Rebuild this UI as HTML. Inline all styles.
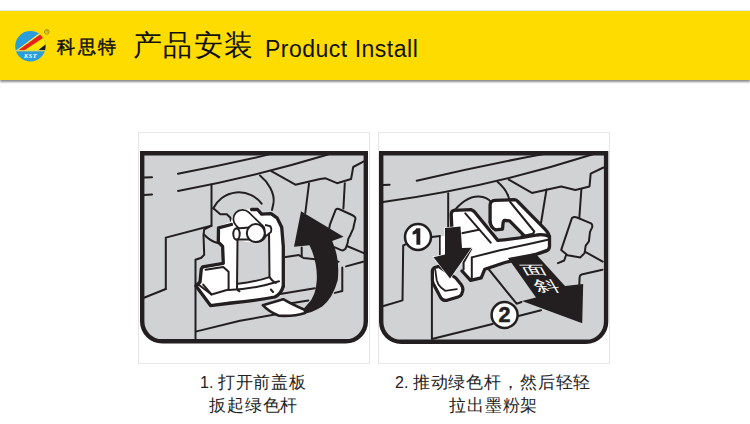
<!DOCTYPE html>
<html><head><meta charset="utf-8">
<style>
html,body{margin:0;padding:0;background:#fff;}
body{width:750px;height:424px;position:relative;overflow:hidden;font-family:"Liberation Sans",sans-serif;}
#bar{position:absolute;left:0;top:11px;width:750px;height:69px;background:#ffdc00;box-shadow:0 2px 2px rgba(0,0,0,0.45),0 -1px 0 #e4e7ee;}
.t{position:absolute;white-space:nowrap;color:#111;line-height:1;}
#kst{left:57px;top:38px;font-size:18px;letter-spacing:2.6px;-webkit-text-stroke:0.5px #111;}
#cn{left:133px;top:31px;font-size:29px;letter-spacing:1.3px;}
#en{left:265px;top:38px;font-size:23px;letter-spacing:0.5px;}
.cap{position:absolute;color:#222;font-size:17px;letter-spacing:0.85px;line-height:24px;white-space:nowrap;}
.d{font-size:16px;letter-spacing:0;}
.box{position:absolute;top:132px;width:230px;height:230px;border:1px solid #e6e6e6;}
#b1{left:138px;}
#b2{left:378px;}
svg{position:absolute;left:0;top:0;}
</style></head><body>
<div id="bar"></div>
<div class="t" id="kst">科思特</div>
<div class="t" id="cn">产品安装</div>
<div class="t" id="en">Product Install</div>
<div class="box" id="b1"></div>
<div class="box" id="b2"></div>
<svg width="750" height="424" viewBox="0 0 750 424"><g id="ill1">
<path d="M142.2,153.2 H365.8 V321.3 A20,20 0 0 1 345.8,341.3 H162.2 A20,20 0 0 1 142.2,321.3 Z" fill="#d1d2d4"/>
<g fill="none" stroke="#231f20" stroke-width="2" stroke-linejoin="round" stroke-linecap="round">
<path d="M144,177.6 L152,177.2 M144,195 L152,194.6"/>
<path d="M178,173.7 Q227,164.3 276,152.9"/>
<path d="M178,190.9 Q253,177.2 328,154.5"/>
<path d="M211.5,184.5 V225.8"/>
<path d="M165.8,289 V237.6 L211.2,225.8"/>
<path d="M165.8,289 L144,297.8"/>
<path d="M211.2,225.8 L204.2,229.3 L203.5,235 L204.2,254.8 L201.3,257.7 L195.5,259.8 V340"/>
<path d="M204,234.5 Q210,241 217.6,243"/>
<path d="M271.3,171.2 L295.4,184.7 L320,179 L325.7,178.3 L337,183.2 L351.1,179 L353.2,167 L363.8,161.3"/>
<path d="M309,183.5 L305.3,213"/>
<path d="M344.8,183.2 L343.4,208.5"/>
<path d="M213.3,208.3 A28.5,28.5 0 0 1 261.6,203.6"/>
<path d="M260,175.5 C268,182 275,193 273.5,203 L272,210"/>
<path d="M196.6,331.4 L240,320.8 L300,310.1"/>
<path d="M285.7,257 L298.9,255.1 L303.6,258 L338.5,261.7 M301.7,247.6 V257"/>
<path d="M346.1,266.4 L363.1,261.7 M342.3,267.4 V291 L334.8,292.9"/>
<path d="M346.9,246 L363.9,253.1"/>
<path d="M275.5,294.8 L314.9,288.2"/>
<path d="M291.3,303.3 L308.3,300.4"/>
<path d="M213.3,208.3 L220.3,214.2 L226.8,214.2 L230.4,217.8 L231,221.5"/>
</g>
<!-- white block upper right -->
<path d="M335.6,209.9 Q337,208 340,209.5 L352,215 Q356,217 355.4,219.1 L354,224.7 L353.3,228.3 L350.5,234.7 L348.3,238.9 L347.6,243.2 L345.5,248.8 Q343,251 341.2,250.2 L334.9,247.4 L326,245 L329.9,224.7 Z" fill="#d1d2d4" stroke="#231f20" stroke-width="2" stroke-linejoin="round"/>
<!-- holder front face white -->
<path d="M230.4,221.9 L233.3,215.4 L240.4,208.9 L251.6,209.5 L257.5,209.5 L261.6,214.2 L271,213.6 L277,217.8 L281.7,227.2 L283.3,246.6 L283.3,286.2 Q281,293 274.8,296 Q256,300 231.3,301 L210.5,305.6 L196,286 L200,282 L201.3,269 L202.7,266.9 L223.3,263.3 L222.6,246.3 L218.3,242 L217.6,226.5 Z" fill="#fff"/>
<path d="M237.5,240 L247,242 L256,242.5 L264,238 L269,230 L269.5,277 Q256,281.5 238,284 Z" fill="#d1d2d4"/>
<g fill="none" stroke="#231f20" stroke-linejoin="round" stroke-linecap="round">
<path stroke-width="3.3" d="M231.4,224.5 L218.5,227.8 L218.3,242 L222.6,246.3 L223.3,263.3 L202.7,266.9 L201.3,269 L200,282 L196,286 L210.5,305.6 L231.3,303 Q256,300.5 274.8,297 Q281,294 283.3,286.2"/>
<path stroke-width="3.3" d="M251.6,209.5 L257.5,209.5 L261.6,214.2 L271,213.6 L277,217.8 L281.7,227.2 L283.3,246.6 L283.3,286.2"/>
<path stroke-width="2" d="M205.6,269.7 L223.3,266.9 L228.6,271.8 L228.6,289.5 L211.5,294.5 L203.2,284.6"/>
<path stroke-width="2" d="M197.4,283.7 L211.5,294.5 M228.6,290 Q255,289 279,281.3"/>
<path stroke-width="2" d="M237.5,240 L237,287.9 Q237.5,291 239.5,291.2"/>
<path stroke-width="2" d="M269,229 L269.5,277.1 Q272,281 275.8,282.9 M270.9,289.5 L273,292"/>
<path stroke-width="2" d="M238,283.7 Q255,282 269.5,277.1"/>
</g>
<!-- roller -->
<path d="M242.5,219 L257,233" stroke="#231f20" stroke-width="20" stroke-linecap="round"/>
<path d="M242.5,219 L257,233" stroke="#fff" stroke-width="16.5" stroke-linecap="round"/>
<path d="M265,225 L270,226 Q272,228 271,232 L266,236" fill="#fff" stroke="#231f20" stroke-width="1.8"/>
<!-- pin -->
<path d="M236.5,228.5 L249,227.5 L249,239.5 L236.5,239.5 Z" fill="#fff" stroke="#231f20" stroke-width="2"/>
<ellipse cx="236.5" cy="234" rx="3.2" ry="5.5" fill="#fff" stroke="#231f20" stroke-width="2"/>
<circle cx="255.8" cy="233.1" r="9" fill="#fff" stroke="#231f20" stroke-width="2"/>
<!-- arrow -->
<path d="M301,211.3 L294,246.7 L309.5,245.3 Q317.5,262 316.8,280 Q316,296 307.8,304 L303,309.4 L301.8,314.2 Q312,313 322.2,306.4 Q333,298 337.8,280 Q340,258 332.2,241 L343.5,236.8 Z" fill="#231f20"/>
<path d="M262.8,305.2 L283.2,299.2 Q291,304 305,310 L305,313 Q295,316.5 279,315.8 Q269,312 262.8,305.2 Z" fill="#fff" stroke="#231f20" stroke-width="2.6" stroke-linejoin="round"/>
<path d="M142.2,153.2 H365.8 V321.3 A20,20 0 0 1 345.8,341.3 H162.2 A20,20 0 0 1 142.2,321.3 Z" fill="none" stroke="#231f20" stroke-width="4.4"/>
</g>
<g id="ill2">
<path d="M381.2,153.2 H606.1 V321.8 A20,20 0 0 1 586.1,341.8 H401.2 A20,20 0 0 1 381.2,321.8 Z" fill="#d1d2d4"/>
<g fill="none" stroke="#231f20" stroke-width="2" stroke-linejoin="round" stroke-linecap="round">
<path d="M383,185 L389.6,184.7"/>
<path d="M416.7,180.8 Q480.9,165.6 545,153.8"/>
<path d="M383,201.9 Q488,187.7 593,154.2"/>
<path d="M508.8,179.7 L531.9,192.9 L561.2,186.5 L575.4,190 L589.5,186.5 L590.7,173.6 L603.5,167.5"/>
<path d="M497.2,181.4 Q505,188 507.8,195"/>
<path d="M451.8,213.9 Q465,196 479,196.5 Q487,197 491,202"/>
<path d="M448.2,193.2 V232"/>
<path d="M546.5,189.5 L540.5,226"/>
<path d="M581.4,189 L579.3,218.1"/>
<path d="M405.5,244.4 L403.2,245.5 L402.5,300.4 L382.7,306.3"/>
<path d="M431.8,237 L440,236 V258"/>
<path d="M431.9,270 V339 L492.6,324"/>
<path d="M518.5,316 L541,310.3"/>
<path d="M488.5,269 L516.6,303.7 L521.5,302"/>
<path d="M602.5,269.7 L581.5,274.5 Q579.6,275.3 579.6,277.5 L579.3,285.5"/>
<path d="M585.7,252.1 L602.7,261.6"/>
<path d="M566.4,254.2 L564.2,260.5 L558,263.2"/>
</g>
<!-- wavy block -->
<path d="M571.9,218.1 Q574,216.5 577,217.5 L591,223.4 Q593,225 592,227.6 L590,231.9 L588.9,241.4 L585.7,245.7 L584.6,253.1 L580.4,257.4 L567.6,255.2 L561.2,249.9 Z" fill="#d1d2d4" stroke="#231f20" stroke-width="2" stroke-linejoin="round"/>
<!-- holder white -->
<path d="M440.7,236.5 L451.8,235 L451.2,214.4 L454.1,210.3 L471.2,209.7 L474.2,211.5 L490.1,230 L490.1,205 L495,200.3 L514.3,199.7 L517.8,201.5 L544.9,229.2 L548.5,235 L550,246.5 L546.7,250.6 L505,262.5 L484.8,269.2 L481.2,277.8 L470.6,280.4 L463.6,269.5 L463.6,262.5 L471.2,249 L440.7,258 Z" fill="#fff"/>
<path d="M495.4,229.8 L502.5,229.2 L503.1,222.7 L504.9,220.3 L509.6,220.9 L523.7,235.1 L521.4,236.8 L497.8,240 L492,232 Z" fill="#d1d2d4"/>
<g fill="none" stroke="#231f20" stroke-linejoin="round" stroke-linecap="round">
<path stroke-width="3.3" d="M451.8,226.8 L451.2,214.4 Q451.5,210.5 454.1,210.3 L471.2,209.7 L474.2,211.5 L497.8,240.4 Q520,238.5 537,235 Q544,234 549.5,236.5"/>
<path stroke-width="3.3" d="M490.1,222.1 V205 Q490.5,200.5 495,200.3 L514.3,199.7 Q516.5,199.8 517.8,201.5 L544.9,229.2 Q549.5,234 549.5,238 V246.5 Q549,250 546.7,250.6"/>
<path stroke-width="3.3" d="M490.1,222.1 Q491,228 495.4,229.8 L502.5,229.2 L503.1,222.7 Q503.5,220.5 504.9,220.3 L509.6,220.9 L523.7,235.1"/>
<path stroke-width="3.3" d="M462,271 L470.6,280.4 L481.2,277.8 L484.8,269.2 L505,262.5 Q530,257 546.7,250.6"/>
<path stroke-width="2" d="M507.8,195 L510.2,202 L534.3,231.5 Q534,233.5 532,233.9 L521.4,236.2"/>
<path stroke-width="2" d="M465.3,213.3 L490.7,242.7"/>
<path stroke-width="2" d="M461.8,233.3 L478.9,229.8"/>
<path stroke-width="2" d="M471.8,257.4 L500,250.3 Q525,245 549,239.5"/>
<path stroke-width="2" d="M471.8,257.4 V278 M471.2,249 L463.6,262.5 V269.5"/>
</g>
<!-- lever -->
<path d="M432.4,271 Q432.5,268.3 435.5,267.3 L438.8,266.4 L447,272 L455.8,278 L461.1,284.4 Q463.5,288 462.7,291 L461.5,294.5 Q460.5,296.3 458,297 L447,300.3 Q443,301 440.9,298 L433.5,284 Q432.5,282 432.4,280 Z" fill="#fff" stroke="#231f20" stroke-width="3.2" stroke-linejoin="round"/>
<path d="M435.3,270 L436.7,280.2 Q438,285 441,287.5 L445.2,290.8 L456.8,289.2" fill="none" stroke="#231f20" stroke-width="1.8" stroke-linecap="round"/>
<!-- arrow 1 -->
<path d="M445,228 L460.5,226.5 L462,248 L471.5,247.8 L450,278.5 L433.5,257.2 L445,254.5 Z" fill="#231f20" stroke="#fff" stroke-width="1.2" stroke-linejoin="miter" paint-order="stroke"/>
<!-- arrow 2 -->
<path d="M508,258 L535,253 L565,286 L583.2,284.1 L582.2,323.2 L522,301.1 L536,297.5 Z" fill="#231f20"/>
<text x="0" y="0" font-size="14" fill="#fff" transform="translate(524,274) skewX(30) scale(1.75,0.85)">面</text>
<text x="0" y="0" font-size="14" fill="#fff" transform="translate(537,291) skewX(30) scale(1.75,1.05)">斜</text>
<!-- circles -->
<circle cx="418" cy="237" r="13" fill="#fff" stroke="#231f20" stroke-width="2.5"/>
<path d="M416.4,228.2 H420.3 V244.7 H416.4 V233.4 Q414.8,234.4 412.6,234.8 V231.8 Q415.2,230.9 416.4,228.2 Z" fill="#231f20"/>
<circle cx="504.6" cy="315" r="13" fill="#fff" stroke="#231f20" stroke-width="2.5"/>
<text x="504.6" y="322.2" font-size="21.5" font-weight="bold" stroke="#231f20" stroke-width="0.6" text-anchor="middle" fill="#231f20" font-family="Liberation Sans">2</text>
<path d="M381.2,153.2 H606.1 V321.8 A20,20 0 0 1 586.1,341.8 H401.2 A20,20 0 0 1 381.2,321.8 Z" fill="none" stroke="#231f20" stroke-width="4.4"/>
</g>
<g id="logo">
<clipPath id="lc"><circle cx="30.4" cy="46.2" r="15.2"/></clipPath>
<g clip-path="url(#lc)">
<rect x="14" y="30" width="33" height="33" fill="#2a9ddb"/>
<polygon points="16.5,50.6 40.5,32.5 47,32.5 47,50.6" fill="#ffe800"/>
<polygon points="16.2,50.6 39.6,33.2 40.4,34.4 17.9,50.6" fill="#f5e66a"/>
<polygon points="17.9,50.6 40.4,34.2 43,38 24.2,50.6" fill="#e3231b"/>
<polygon points="37.8,50.6 47,43.2 47,50.6" fill="#1d1d1b"/>
<rect x="14" y="50.2" width="33" height="1.1" fill="#f2e14a"/>
</g>
<text x="30.5" y="57.6" font-family="Liberation Serif" font-style="italic" font-weight="bold" font-size="6.2" fill="#fff" text-anchor="middle" letter-spacing="0.6">KST</text>
<circle cx="46.8" cy="31.9" r="2.3" fill="none" stroke="#8c7a26" stroke-width="0.8"/>
<text x="46.8" y="33.4" font-family="Liberation Sans" font-size="3.6" fill="#8c7a26" text-anchor="middle">R</text>
</g>
</svg>
<div class="cap" style="left:200px;top:371px"><span class="d">1. </span>打开前盖板</div>
<div class="cap" style="left:209px;top:394px">扳起绿色杆</div>
<div class="cap" style="left:395px;top:371px"><span class="d">2. </span>推动绿色杆，然后轻轻</div>
<div class="cap" style="left:449px;top:394px">拉出墨粉架</div>
</body></html>
